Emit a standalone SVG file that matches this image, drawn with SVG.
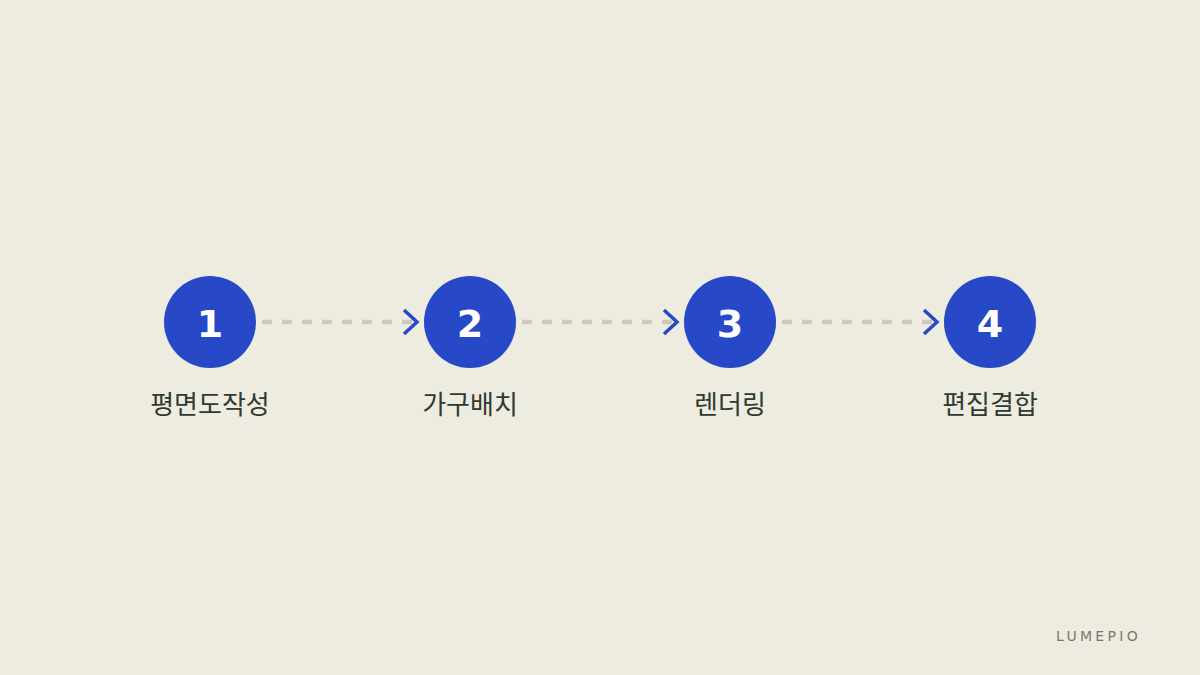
<svg xmlns="http://www.w3.org/2000/svg" width="1200" height="675" viewBox="0 0 1200 675">
<style>
.node circle{fill:#2749c8}
.num{font-family:"DejaVu Sans","Noto Sans",sans-serif;font-weight:bold;font-size:38px;fill:#ffffff;text-anchor:middle}
.lbl{font-family:"Noto Sans CJK KR","Noto Sans",sans-serif;font-size:26px;fill:#2f3a30;text-anchor:middle}
.dash{stroke:#cfc9b8;stroke-width:4.5;stroke-dasharray:10 10;fill:none}
.chev{stroke:#2749c8;stroke-width:3.5;fill:none;stroke-linecap:butt;stroke-linejoin:miter}
</style>
<rect width="1200" height="675" fill="#eeebe0"/>
<g id="connectors">
<line class="dash" x1="262" y1="322" x2="412" y2="322"/>
<path class="chev" d="M404 310 L417 322 L404 334"/>
<line class="dash" x1="522" y1="322" x2="672" y2="322"/>
<path class="chev" d="M664 310 L677 322 L664 334"/>
<line class="dash" x1="782" y1="322" x2="932" y2="322"/>
<path class="chev" d="M924 310 L937 322 L924 334"/>
</g>
<g id="node1" class="node"><circle cx="210" cy="322" r="46"/><text class="num" x="210" y="337">1</text><text class="lbl" x="210" y="414">평면도작성</text></g>
<g id="node2" class="node"><circle cx="470" cy="322" r="46"/><text class="num" x="470" y="337">2</text><text class="lbl" x="470" y="414">가구배치</text></g>
<g id="node3" class="node"><circle cx="730" cy="322" r="46"/><text class="num" x="730" y="337">3</text><text class="lbl" x="730" y="414">렌더링</text></g>
<g id="node4" class="node"><circle cx="990" cy="322" r="46"/><text class="num" x="990" y="337">4</text><text class="lbl" x="990" y="414">편집결합</text></g>
<text x="1141" y="641" text-anchor="end" font-family="'DejaVu Sans',sans-serif" font-size="14" letter-spacing="3.3" fill="#777a6e">LUMEPIO</text>
</svg>
